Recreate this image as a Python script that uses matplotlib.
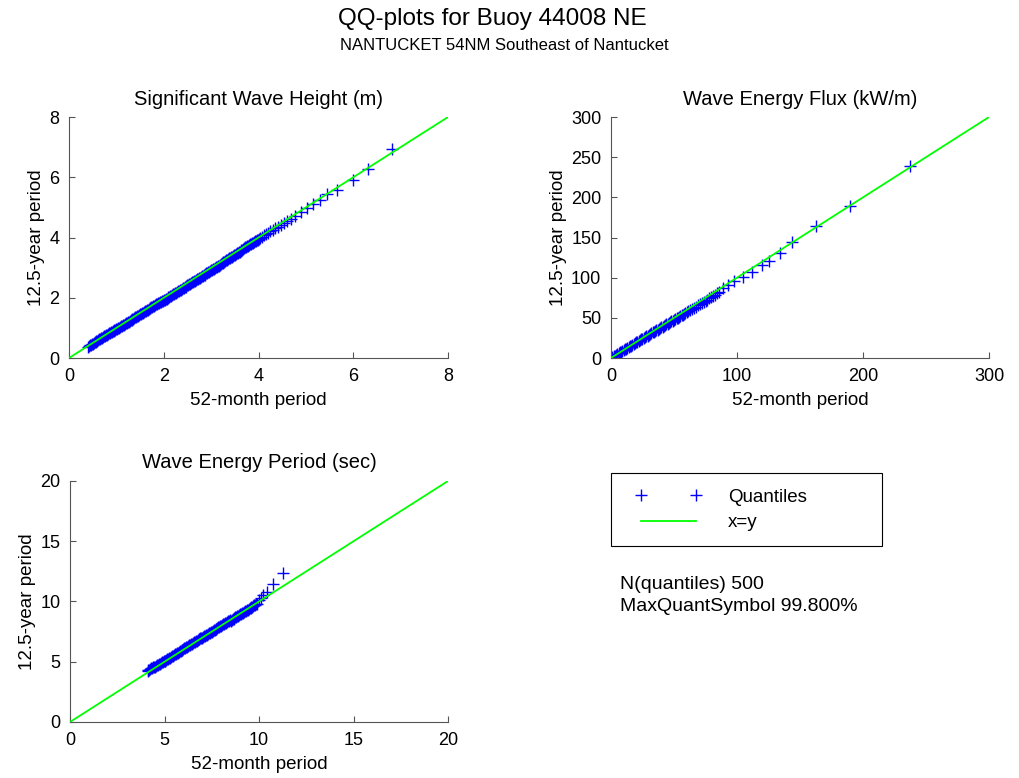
import matplotlib.pyplot as plt
from matplotlib.lines import Line2D
from matplotlib.patches import Rectangle

plt.rcParams["font.family"] = ["Liberation Sans", "DejaVu Sans"]

# Significant wave height quantiles (m): 52-month record vs 12.5-year record
hs_52m = [
    0.40, 0.42, 0.44, 0.46, 0.48, 0.50, 0.52, 0.54, 0.56, 0.58,
    0.60, 0.62, 0.64, 0.66, 0.68, 0.70, 0.72, 0.74, 0.76, 0.78,
    0.80, 0.82, 0.84, 0.86, 0.88, 0.90, 0.92, 0.94, 0.96, 0.98,
    1.00, 1.02, 1.04, 1.06, 1.08, 1.10, 1.12, 1.14, 1.16, 1.18,
    1.20, 1.22, 1.24, 1.26, 1.28, 1.30, 1.32, 1.34, 1.36, 1.38,
    1.40, 1.42, 1.44, 1.46, 1.48, 1.50, 1.52, 1.54, 1.56, 1.58,
    1.60, 1.62, 1.64, 1.66, 1.68, 1.70, 1.72, 1.74, 1.76, 1.78,
    1.80, 1.82, 1.84, 1.86, 1.88, 1.90, 1.92, 1.94, 1.96, 1.98,
    2.00, 2.02, 2.04, 2.06, 2.08, 2.10, 2.12, 2.14, 2.16, 2.18,
    2.20, 2.22, 2.24, 2.26, 2.28, 2.30, 2.32, 2.34, 2.36, 2.38,
    2.40, 2.42, 2.44, 2.46, 2.48, 2.50, 2.52, 2.54, 2.56, 2.58,
    2.60, 2.62, 2.64, 2.66, 2.68, 2.70, 2.72, 2.74, 2.76, 2.78,
    2.80, 2.82, 2.84, 2.86, 2.88, 2.90, 2.92, 2.94, 2.96, 2.98,
    3.00, 3.02, 3.04, 3.06, 3.08, 3.10, 3.12, 3.14, 3.16, 3.18,
    3.20, 3.22, 3.24, 3.26, 3.28, 3.30, 3.32, 3.34, 3.36, 3.38,
    3.40, 3.42, 3.44, 3.46, 3.48, 3.50, 3.52, 3.54, 3.56, 3.58,
    3.60, 3.62, 3.64, 3.66, 3.68, 3.70, 3.72, 3.74, 3.76, 3.78,
    3.80, 3.82, 3.84, 3.86, 3.88, 3.90, 3.92, 3.94, 3.96, 3.98,
    4.00, 4.04, 4.08, 4.12, 4.16, 4.20, 4.25, 4.30, 4.35, 4.41,
    4.47, 4.54, 4.61, 4.68, 4.78, 4.90, 5.02, 5.14, 5.30, 5.44,
    5.65, 5.99, 6.32, 6.81,
]
hs_125y = [
    0.38, 0.40, 0.42, 0.44, 0.46, 0.48, 0.50, 0.52, 0.54, 0.56,
    0.58, 0.60, 0.62, 0.64, 0.66, 0.68, 0.70, 0.72, 0.74, 0.76,
    0.78, 0.80, 0.82, 0.84, 0.85, 0.87, 0.89, 0.91, 0.92, 0.94,
    0.96, 0.98, 1.00, 1.01, 1.03, 1.05, 1.07, 1.09, 1.11, 1.13,
    1.15, 1.17, 1.19, 1.21, 1.23, 1.25, 1.27, 1.29, 1.31, 1.33,
    1.35, 1.37, 1.39, 1.41, 1.43, 1.45, 1.47, 1.49, 1.51, 1.53,
    1.55, 1.57, 1.59, 1.61, 1.63, 1.65, 1.67, 1.69, 1.71, 1.73,
    1.74, 1.76, 1.78, 1.80, 1.82, 1.83, 1.85, 1.87, 1.89, 1.90,
    1.92, 1.94, 1.95, 1.97, 1.99, 2.01, 2.03, 2.05, 2.07, 2.09,
    2.11, 2.13, 2.15, 2.17, 2.19, 2.21, 2.23, 2.25, 2.27, 2.29,
    2.31, 2.33, 2.35, 2.37, 2.39, 2.41, 2.43, 2.45, 2.47, 2.49,
    2.51, 2.53, 2.55, 2.57, 2.59, 2.61, 2.63, 2.65, 2.67, 2.69,
    2.71, 2.73, 2.75, 2.77, 2.79, 2.81, 2.83, 2.85, 2.87, 2.89,
    2.91, 2.93, 2.95, 2.97, 2.99, 3.01, 3.03, 3.05, 3.07, 3.09,
    3.11, 3.14, 3.16, 3.18, 3.20, 3.23, 3.25, 3.27, 3.29, 3.31,
    3.33, 3.35, 3.37, 3.39, 3.41, 3.43, 3.45, 3.47, 3.49, 3.51,
    3.53, 3.56, 3.58, 3.60, 3.62, 3.65, 3.67, 3.69, 3.71, 3.73,
    3.75, 3.77, 3.79, 3.81, 3.83, 3.85, 3.87, 3.89, 3.91, 3.93,
    3.95, 3.99, 4.03, 4.07, 4.11, 4.15, 4.20, 4.25, 4.30, 4.36,
    4.42, 4.49, 4.56, 4.63, 4.73, 4.85, 4.97, 5.10, 5.25, 5.44,
    5.58, 5.91, 6.27, 6.93,
]

# Wave energy flux quantiles (kW/m)
flux_52m = [
    0.3, 1.0, 2.0, 3.0, 4.0, 5.0, 6.0, 7.0, 8.0, 9.0, 10.0,
    11.0, 12.0, 13.0, 14.0, 15.0, 16.0, 17.0, 18.0, 19.0, 20.0,
    21.0, 22.0, 23.0, 24.0, 25.0, 26.0, 27.0, 28.0, 29.0, 30.0,
    31.0, 32.0, 33.0, 34.0, 35.0, 36.0, 37.0, 38.0, 39.0, 40.0,
    41.0, 42.0, 43.0, 44.0, 45.0, 46.0, 47.0, 48.0, 49.0, 50.0,
    51.0, 52.0, 53.0, 54.0, 55.0, 56.0, 57.0, 58.0, 59.0, 60.0,
    61.5, 63.0, 64.5, 66.0, 67.5, 69.0, 70.5, 72.0, 73.5, 75.0,
    76.5, 78.0, 79.5, 81.0, 82.5, 84.0, 85.5,
    89.0, 93.0, 98.0, 105.0, 111.5, 119.5, 125.5, 134.0, 144.0, 163.0, 190.0, 237.0,
]
flux_125y = [
    0.3, 1.0, 2.0, 2.9, 3.9, 4.9, 5.9, 6.9, 7.9, 8.8, 9.8,
    10.8, 11.8, 12.7, 13.7, 14.7, 15.6, 16.6, 17.6, 18.5, 19.5,
    20.4, 21.4, 22.3, 23.3, 24.2, 25.2, 26.1, 27.1, 28.0, 29.0,
    29.9, 30.8, 31.8, 32.7, 33.6, 34.6, 35.5, 36.4, 37.4, 38.3,
    39.2, 40.1, 41.1, 42.0, 42.9, 43.8, 44.8, 45.7, 46.6, 47.5,
    48.4, 49.4, 50.3, 51.2, 52.1, 53.0, 54.0, 54.9, 55.8, 56.7,
    58.2, 59.6, 61.0, 62.5, 63.9, 65.4, 66.8, 68.3, 69.8, 71.3,
    72.8, 74.3, 75.8, 77.3, 78.9, 80.5, 82.1,
    87.0, 91.0, 95.8, 101.0, 107.0, 115.5, 121.0, 131.0, 144.5, 164.0, 189.5, 239.5,
]

# Wave energy period quantiles (sec)
te_52m = [
    4.10, 4.15, 4.20, 4.25, 4.30, 4.35, 4.40, 4.45, 4.50, 4.55,
    4.60, 4.65, 4.70, 4.75, 4.80, 4.85, 4.90, 4.95, 5.00, 5.05,
    5.10, 5.15, 5.20, 5.25, 5.30, 5.35, 5.40, 5.45, 5.50, 5.55,
    5.60, 5.65, 5.70, 5.75, 5.80, 5.85, 5.90, 5.95, 6.00, 6.05,
    6.10, 6.15, 6.20, 6.25, 6.30, 6.35, 6.40, 6.45, 6.50, 6.55,
    6.60, 6.65, 6.70, 6.75, 6.80, 6.85, 6.90, 6.95, 7.00, 7.05,
    7.10, 7.15, 7.20, 7.25, 7.30, 7.35, 7.40, 7.45, 7.50, 7.55,
    7.60, 7.65, 7.70, 7.75, 7.80, 7.85, 7.90, 7.95, 8.00, 8.05,
    8.10, 8.15, 8.20, 8.25, 8.30, 8.35, 8.40, 8.45, 8.50, 8.55,
    8.60, 8.65, 8.70, 8.75, 8.80, 8.85, 8.90, 8.95, 9.00, 9.05,
    9.10, 9.15, 9.20, 9.25, 9.30, 9.35, 9.40, 9.45, 9.50, 9.55,
    9.60, 9.65, 9.70, 9.75, 9.80, 9.85, 9.90,
    10.00, 10.10, 10.20, 10.40, 10.76, 11.25,
]
te_125y = [
    4.25, 4.30, 4.35, 4.40, 4.45, 4.50, 4.55, 4.60, 4.60, 4.65,
    4.70, 4.75, 4.80, 4.85, 4.90, 4.95, 5.00, 5.05, 5.05, 5.10,
    5.15, 5.20, 5.25, 5.30, 5.35, 5.40, 5.45, 5.50, 5.55, 5.60,
    5.65, 5.70, 5.75, 5.80, 5.85, 5.90, 5.95, 6.00, 6.05, 6.10,
    6.15, 6.20, 6.25, 6.30, 6.35, 6.40, 6.45, 6.50, 6.55, 6.60,
    6.65, 6.70, 6.75, 6.80, 6.85, 6.90, 6.95, 7.00, 7.00, 7.05,
    7.10, 7.15, 7.20, 7.25, 7.30, 7.35, 7.40, 7.45, 7.50, 7.55,
    7.60, 7.65, 7.70, 7.75, 7.80, 7.85, 7.90, 7.95, 8.00, 8.05,
    8.10, 8.15, 8.20, 8.25, 8.30, 8.35, 8.40, 8.45, 8.42, 8.47,
    8.52, 8.57, 8.62, 8.67, 8.72, 8.77, 8.82, 8.87, 8.92, 8.97,
    9.02, 9.07, 9.12, 9.17, 9.22, 9.27, 9.32, 9.37, 9.42, 9.47,
    9.52, 9.57, 9.62, 9.67, 9.72, 9.77, 9.82,
    10.10, 10.30, 10.50, 10.75, 11.45, 12.35,
]

panels = [
    ("Significant Wave Height (m)", hs_52m, hs_125y, 8, [0, 2, 4, 6, 8], [0, 2, 4, 6, 8]),
    ("Wave Energy Flux (kW/m)", flux_52m, flux_125y, 300, [0, 100, 200, 300],
     [0, 50, 100, 150, 200, 250, 300]),
    ("Wave Energy Period (sec)", te_52m, te_125y, 20, [0, 5, 10, 15, 20], [0, 5, 10, 15, 20]),
]
positions = [
    [0.0677, 0.5398, 0.3720, 0.3098],
    [0.5996, 0.5398, 0.3710, 0.3098],
    [0.0687, 0.0720, 0.3710, 0.3098],
]

fig = plt.figure(figsize=(10.19, 7.78), dpi=100)
fig.patch.set_facecolor("white")

fig.text(0.483, 0.976, "QQ-plots for Buoy 44008 NE", ha="center", va="center", fontsize=17.5)
fig.text(0.495, 0.942, "NANTUCKET 54NM Southeast of Nantucket", ha="center", va="center", fontsize=12)

for (title, xq, yq, top, xticks, yticks), pos in zip(panels, positions):
    ax = fig.add_axes(pos)
    ax.plot(xq, yq, linestyle="none", marker="+", color="#0000ff",
            markersize=9, markeredgewidth=1.0, zorder=2)
    ax.plot([0, top], [0, top], color="#00ff00", linewidth=1.3, zorder=3)
    ax.set_xlim(0, top)
    ax.set_ylim(0, top)
    ax.set_xticks(xticks)
    ax.set_yticks(yticks)
    ax.set_title(title, fontsize=14.5, pad=9)
    ax.set_xlabel("52-month period", fontsize=13.5, labelpad=5)
    ax.set_ylabel("12.5-year period", fontsize=13.5, labelpad=3)
    ax.spines["top"].set_visible(False)
    ax.spines["right"].set_visible(False)
    for side in ("left", "bottom"):
        ax.spines[side].set_color("#555555")
        ax.spines[side].set_linewidth(0.8)
    ax.tick_params(direction="in", length=4, width=0.8, color="#555555",
                   labelsize=13, pad=7)

# legend box
fig.patches.append(Rectangle((0.5996, 0.298), 0.266, 0.0938, transform=fig.transFigure,
                             fill=False, edgecolor="black", linewidth=0.8))
handles = [
    Line2D([], [], linestyle="none", marker="+", color="#0000ff", markersize=9, markeredgewidth=1.0),
    Line2D([], [], color="#00ff00", linewidth=1.3),
]
fig.legend(handles, ["Quantiles", "x=y"], loc="upper left",
           bbox_to_anchor=(0.624, 0.372), frameon=False, numpoints=2,
           handlelength=3.5, handletextpad=1.4, fontsize=13.5,
           labelspacing=0.45, borderpad=0, borderaxespad=0)

fig.text(0.608, 0.249, "N(quantiles) 500", ha="left", va="center", fontsize=14)
fig.text(0.608, 0.221, "MaxQuantSymbol 99.800%", ha="left", va="center", fontsize=14)

fig.savefig("out.png", dpi=100)
